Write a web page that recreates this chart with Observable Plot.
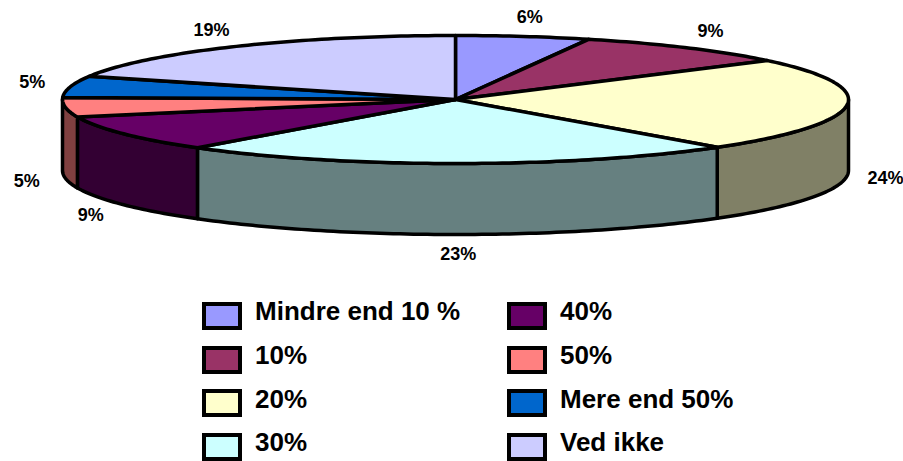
<!DOCTYPE html>
<html><head><meta charset="utf-8">
<script src="https://cdn.jsdelivr.net/npm/d3@7"></script>
<script src="https://cdn.jsdelivr.net/npm/@observablehq/plot@0.6"></script>
<style>
body{margin:0;background:#fff;font-family:"Liberation Sans",Arial,sans-serif;}
#wrap{position:relative;width:903px;height:461px;overflow:hidden;}
#legend{position:absolute;left:202px;top:294px;display:grid;grid-template-rows:repeat(4,43.7px);grid-template-columns:305px 305px;grid-auto-flow:column;}
.item{display:flex;align-items:center;}
.sw{width:40px;height:28px;border:4px solid #000;box-sizing:border-box;margin-right:13px;flex:none;}
.lab{font-weight:bold;font-size:26px;color:#000;position:relative;top:-4px;white-space:nowrap;}
</style></head>
<body><div id="wrap"><div id="chart"></div><div id="legend"></div></div>
<script>
const categories = ["Mindre end 10 %","10%","20%","30%","40%","50%","Mere end 50%","Ved ikke"];
const values = [5.5, 9.1, 23.8, 23.0, 9.2, 4.9, 5.4, 19.1];
const topColors = ["#9999FF","#993366","#FFFFCC","#CCFFFF","#660066","#FF8080","#0066CC","#CCCCFF"];

// layout
const W = 903, H = 290;
const cx = 455, cy = 99, rx = 393, ry = 64, depth = 71;
const labRx = 432, labRy = 84;

const sideColors = topColors.map(c => { const r = d3.rgb(c); return d3.rgb(r.r*0.5, r.g*0.5, r.b*0.5).formatHex(); });
const total = d3.sum(values);
let cum = 0;
const slices = categories.map((c, i) => {
  const a0 = cum / total * 2 * Math.PI; cum += values[i];
  const a1 = cum / total * 2 * Math.PI;
  return {c, i, a0, a1, v: values[i]};
});
const px = a => cx + rx * Math.sin(a);
const py = a => cy - ry * Math.cos(a);
function arc(a0, a1) {
  const n = Math.max(2, Math.ceil((a1 - a0) / (Math.PI / 180)));
  return d3.range(n + 1).map(k => a0 + (a1 - a0) * k / n);
}
const topPts = slices.flatMap(s => {
  const pts = [{x: cx, y: cy}, ...arc(s.a0, s.a1).map(a => ({x: px(a), y: py(a)}))];
  pts.push(pts[0]);
  return pts.map(p => ({...p, id: s.i, fill: topColors[s.i]}));
});
const sidePts = slices.flatMap(s => {
  const b0 = Math.max(s.a0, Math.PI / 2), b1 = Math.min(s.a1, 3 * Math.PI / 2);
  if (b1 <= b0) return [];
  const as = arc(b0, b1);
  const pts = [...as.map(a => ({x: px(a), y: py(a)})), ...as.slice().reverse().map(a => ({x: px(a), y: py(a) + depth}))];
  pts.push(pts[0]);
  return pts.map(p => ({...p, id: s.i, fill: sideColors[s.i]}));
});
const labels = slices.map(s => {
  const m = (s.a0 + s.a1) / 2;
  const c = Math.cos(m);
  return {x: cx + labRx * Math.sin(m), y: cy - labRy * c + (c < 0 ? depth : 0), text: Math.round(s.v) + "%"};
});

const chart = Plot.plot({
  width: W, height: H, margin: 0,
  x: {domain: [0, W], range: [0, W], axis: null},
  y: {domain: [0, H], range: [0, H], axis: null},
  color: {type: "identity"},
  style: {fontFamily: "'Liberation Sans', Arial, sans-serif", background: "#fff"},
  marks: [
    Plot.line(sidePts, {x: "x", y: "y", z: "id", fill: "fill", stroke: "#000", strokeWidth: 3.5, strokeLinejoin: "round"}),
    Plot.line(topPts, {x: "x", y: "y", z: "id", fill: "fill", stroke: "#000", strokeWidth: 3.5, strokeLinejoin: "round"}),
    Plot.text(labels, {x: "x", y: "y", text: "text", fontSize: 18, fontWeight: "bold", fill: "#000"})
  ]
});
document.getElementById("chart").appendChild(chart);

const legend = document.getElementById("legend");
categories.forEach((c, i) => {
  const it = document.createElement("div"); it.className = "item";
  const sw = document.createElement("div"); sw.className = "sw"; sw.style.background = topColors[i];
  const lb = document.createElement("span"); lb.className = "lab"; lb.textContent = c;
  it.appendChild(sw); it.appendChild(lb); legend.appendChild(it);
});
</script>
</body></html>
